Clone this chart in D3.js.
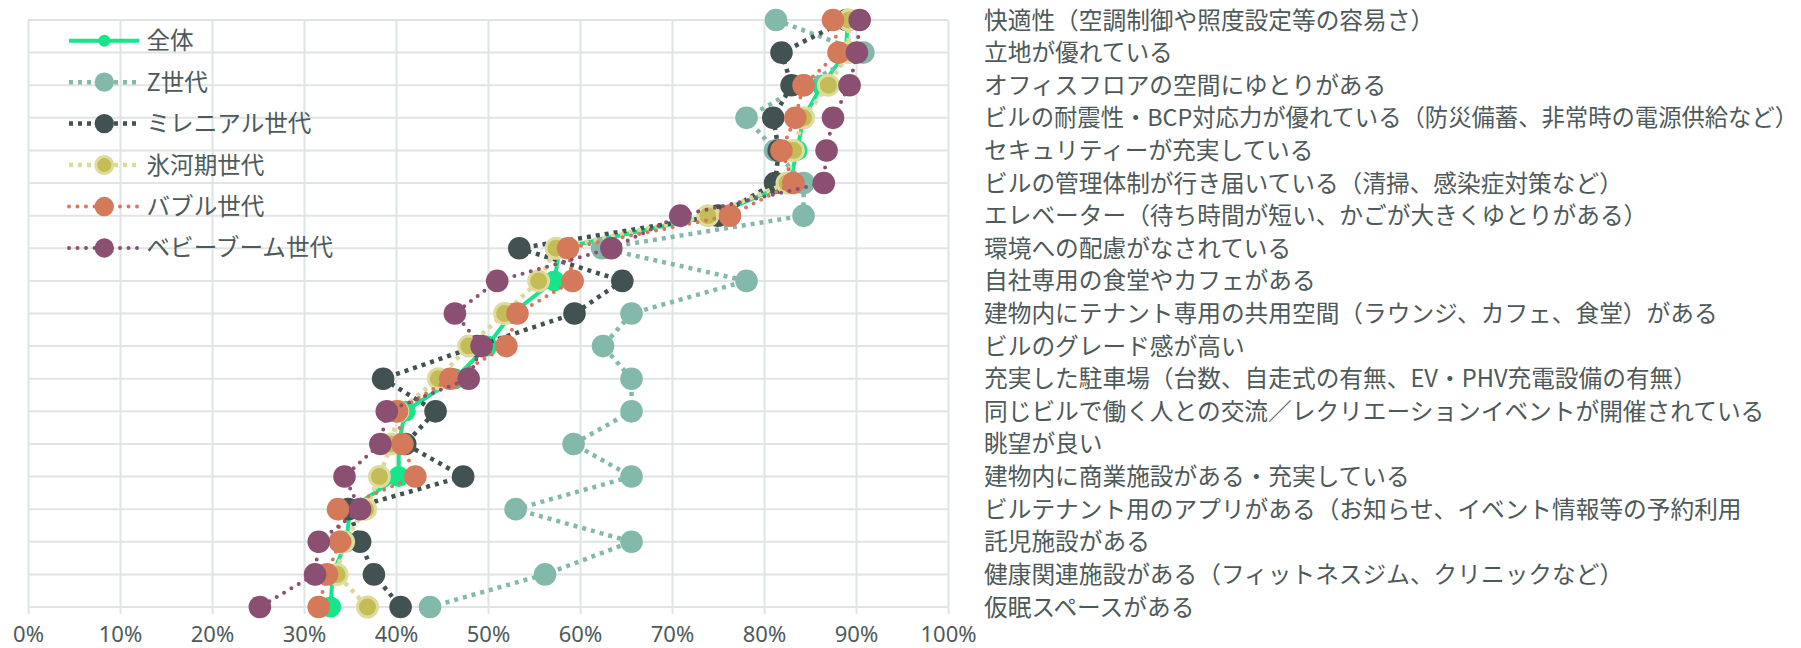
<!DOCTYPE html>
<html><head><meta charset="utf-8">
<script src="https://cdn.jsdelivr.net/npm/d3@7"></script>
<style>
html,body{margin:0;padding:0;background:#fff;}
svg{display:block;}
</style>
</head><body>
<svg id="chart" width="1801" height="648"></svg>
<script>
const categories = [
  "快適性（空調制御や照度設定等の容易さ）",
  "立地が優れている",
  "オフィスフロアの空間にゆとりがある",
  "ビルの耐震性・BCP対応力が優れている（防災備蓄、非常時の電源供給など）",
  "セキュリティーが充実している",
  "ビルの管理体制が行き届いている（清掃、感染症対策など）",
  "エレベーター（待ち時間が短い、かごが大きくゆとりがある）",
  "環境への配慮がなされている",
  "自社専用の食堂やカフェがある",
  "建物内にテナント専用の共用空間（ラウンジ、カフェ、食堂）がある",
  "ビルのグレード感が高い",
  "充実した駐車場（台数、自走式の有無、EV・PHV充電設備の有無）",
  "同じビルで働く人との交流／レクリエーションイベントが開催されている",
  "眺望が良い",
  "建物内に商業施設がある・充実している",
  "ビルテナント用のアプリがある（お知らせ、イベント情報等の予約利用",
  "託児施設がある",
  "健康関連施設がある（フィットネスジム、クリニックなど）",
  "仮眠スペースがある"
];
const seriesNames = ["全体","Z世代","ミレニアル世代","氷河期世代","バブル世代","ベビーブーム世代"];
const all      = [89.1, 88.9, 86.3, 84.3, 83.6, 82.8, 74.4, 57.8, 57.2, 52.6, 49.9, 46.4, 41.0, 40.3, 40.3, 35.0, 34.6, 33.1, 32.9];
const genZ     = [81.3, 90.8, 84.3, 78.1, 81.2, 84.3, 84.3, 62.4, 78.1, 65.6, 62.5, 65.6, 65.6, 59.3, 65.6, 53.0, 65.6, 56.2, 43.7];
const millen   = [89.0, 81.9, 83.0, 81.0, 81.6, 81.2, 75.0, 53.4, 64.6, 59.4, 48.8, 38.6, 44.3, 41.0, 47.3, 34.8, 36.1, 37.6, 40.5];
const hyogaki  = [89.2, 89.2, 87.0, 84.3, 83.2, 82.5, 73.9, 57.4, 55.5, 51.8, 47.9, 44.6, 40.2, 39.5, 38.2, 36.7, 34.3, 33.6, 36.9];
const bubble   = [87.5, 88.1, 84.3, 83.4, 81.9, 83.2, 76.3, 58.7, 59.2, 53.2, 52.0, 45.9, 40.1, 40.7, 42.1, 33.7, 33.9, 32.5, 31.6];
const boomer   = [90.4, 90.1, 89.3, 87.5, 86.8, 86.5, 70.9, 63.4, 51.0, 46.4, 49.3, 47.9, 39.0, 38.3, 34.4, 36.1, 31.6, 31.2, 25.2];
const xTicks = [0,10,20,30,40,50,60,70,80,90,100];

const styles = [
  {fill:"#17e58c", line:"#17e58c", dash:null, cap:"butt", w:4, r:10.5, lr:6, ring:null},
  {fill:"#82b9aa", line:"#82b9aa", dash:"4,5", cap:"butt", w:4.5, r:11.3, lr:9.7, ring:null},
  {fill:"#425152", line:"#425152", dash:"4,5", cap:"butt", w:4.5, r:11.3, lr:9.7, ring:null},
  {fill:"#c4bd55", line:"#dcd99b", dash:"4,5", cap:"butt", w:4.5, r:10, lr:8.5, ring:"#dedb9f"},
  {fill:"#d4795a", line:"#d4795a", dash:"0,8.5", cap:"round", w:4, r:11.3, lr:9.7, ring:null},
  {fill:"#8a4f71", line:"#8a4f71", dash:"0,8.5", cap:"round", w:4, r:11.3, lr:9.7, ring:null}
];
const data = [all, genZ, millen, hyogaki, bubble, boomer];

const W = 1801;
const svg = d3.select("#chart");
const x = d3.scaleLinear().domain([0,100]).range([28,948]);
const y = d3.scalePoint().domain(categories).range([20,607]);
const textColor = "#4e5959";
const gridColor = "#dfe4e4";

// grid
const g = svg.append("g");
g.selectAll("line.h").data(categories).enter().append("line")
  .attr("x1", x(0)).attr("x2", x(100))
  .attr("y1", d=>y(d)).attr("y2", d=>y(d))
  .attr("stroke", gridColor).attr("stroke-width", 2);
// x axis
const xAxis = d3.axisBottom(x).tickValues(xTicks).tickFormat(d=>d+"%")
  .tickSize(587+7).tickPadding(12);
const ax = svg.append("g").attr("transform","translate(0,20)").call(xAxis);
ax.select(".domain").remove();
ax.selectAll(".tick line").attr("stroke", gridColor).attr("stroke-width", 2);
ax.selectAll(".tick text").attr("fill", textColor)
  .style("font-family","'Noto Sans', sans-serif").style("font-size","22px");

// right labels
const labelX = 984;
const labels = svg.append("g").selectAll("text").data(categories).enter().append("text")
  .attr("x", labelX).attr("y", d=>y(d)).attr("dy","0.36em")
  .attr("fill", textColor)
  .style("font-family","'Noto Sans CJK JP', 'Noto Sans', sans-serif")
  .style("font-size","23.7px")
  .text(d=>d);
// shrink any label that would run past the right edge
labels.each(function(){
  const len = this.getComputedTextLength();
  const avail = W - labelX - 3;
  if (len > avail) {
    d3.select(this).style("font-size", (23.7 * avail / len).toFixed(2) + "px");
  }
});

// series
const lineGen = d3.line().x(d=>x(d.v)).y(d=>y(d.c));
data.forEach((vals, i) => {
  const s = styles[i];
  const pts = vals.map((v, j) => ({v, c: categories[j]}));
  const sg = svg.append("g");
  const path = sg.append("path").datum(pts).attr("d", lineGen)
    .attr("fill","none").attr("stroke", s.line).attr("stroke-width", s.w)
    .attr("stroke-linecap", s.cap).attr("stroke-linejoin","round");
  if (s.dash) path.attr("stroke-dasharray", s.dash);
  sg.selectAll("circle").data(pts).enter().append("circle")
    .attr("cx", d=>x(d.v)).attr("cy", d=>y(d.c)).attr("r", s.r)
    .attr("fill", s.fill)
    .attr("stroke", s.ring || "none").attr("stroke-width", s.ring ? 3 : 0);
});

// legend
const lg = svg.append("g");
const legY = d3.scalePoint().domain(seriesNames).range([40.7, 248]);
seriesNames.forEach((name, i) => {
  const s = styles[i];
  const yy = legY(name);
  const l = lg.append("line").attr("x1", 69).attr("x2", 139).attr("y1", yy).attr("y2", yy)
    .attr("stroke", s.line).attr("stroke-width", s.w).attr("stroke-linecap", s.cap);
  if (s.dash) l.attr("stroke-dasharray", s.dash);
  lg.append("circle").attr("cx", 104.3).attr("cy", yy).attr("r", s.lr)
    .attr("fill", s.fill).attr("stroke", s.ring || "none").attr("stroke-width", s.ring ? 3 : 0);
  lg.append("text").attr("x", 146.5).attr("y", yy).attr("dy","0.36em")
    .attr("fill", textColor)
    .style("font-family","'Noto Sans CJK JP', 'Noto Sans', sans-serif")
    .style("font-size","23.6px").text(name);
});
</script>
</body></html>
